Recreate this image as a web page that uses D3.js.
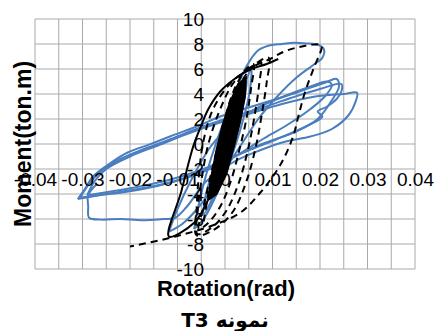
<!DOCTYPE html>
<html>
<head>
<meta charset="utf-8">
<script src="https://cdn.jsdelivr.net/npm/d3@7"></script>
<style>
  body { margin: 0; background: #fff; }
  svg { display: block; }
  .tick text { font-family: "Liberation Sans", Arial, sans-serif; font-size: 19px; fill: #000; }
</style>
</head>
<body>
<div id="chart"></div>
<script>
// tick labels
const xTicks = [-0.04, -0.03, -0.02, -0.01, 0, 0.01, 0.02, 0.03, 0.04]
const yTicks = [-10, -8, -6, -4, -2, 0, 2, 4, 6, 8, 10]
const xGrid = d3.range(-0.04, 0.04001, 0.005)

// test (blue) - read as [rotation, moment] pairs
const blueEarly = [[0,0],[0.0015,2],[0.003,3.8],[0.0045,5.2],[0.004,3.5],[0.002,0.8],[0,-1.8],[-0.002,-3.8],[-0.0045,-5.6],[-0.004,-4],[-0.002,-1.5],[0,0.5],[0.002,2.6],[0.004,4.6],[0.0055,6.0],[0.0052,4.2],[0.0035,1.5],[0.0012,-1.2],[-0.0015,-3.8],[-0.0045,-6.0],[-0.0065,-6.8]]
const bluePeak = [[-0.0065,-6.8],[-0.0055,-4.8],[-0.004,-2.5],[-0.0015,0.5],[0.0015,3.5],[0.0045,6.2],[0.007,7.5],[0.0095,7.9],[0.012,8.0],[0.0145,8.1],[0.017,8.05],[0.0195,7.95],[0.0208,7.6],[0.0205,6.9],[0.0185,6.3],[0.015,5.3],[0.011,3.8],[0.007,2.0],[0.003,-0.3],[-0.001,-2.6],[-0.005,-4.8],[-0.009,-6.4],[-0.0118,-7.0]]
const blueLoop1 = [[-0.0118,-7.0],[-0.01,-5.2],[-0.007,-2.8],[-0.003,-0.2],[0.002,1.8],[0.0074,3.0],[0.013,3.9],[0.018,4.6],[0.0215,5.0],[0.0225,4.7],[0.021,3.8],[0.018,2.8],[0.013,1.5],[0.008,0.4],[0.003,-0.8],[-0.002,-1.8],[-0.008,-2.7],[-0.014,-3.3],[-0.02,-3.7],[-0.025,-4.0],[-0.0295,-4.3],[-0.031,-4.4]]
const blueLoop2 = [[-0.031,-4.4],[-0.0295,-3.6],[-0.0278,-2.6],[-0.024,-1.5],[-0.0206,-0.7],[-0.016,-0.05],[-0.0116,0.6],[-0.0053,1.5],[-0.001,2.2],[0.0074,3.2],[0.015,4.1],[0.021,4.9],[0.0235,5.2],[0.024,4.6],[0.0225,3.5],[0.0195,2.0],[0.015,1.0],[0.0085,0.1],[0.002,-1.0],[-0.004,-2.0],[-0.01,-2.9],[-0.016,-3.5],[-0.022,-3.9],[-0.027,-4.1],[-0.0305,-4.3]]
const blueLoop3 = [[-0.0305,-4.3],[-0.029,-3.4],[-0.0265,-2.3],[-0.022,-1.2],[-0.017,-0.4],[-0.012,0.3],[-0.006,1.2],[0,2.0],[0.007,2.8],[0.014,3.7],[0.02,4.4],[0.0245,4.8],[0.0245,4.2],[0.0235,3.6],[0.0215,3.0],[0.0195,2.6],[0.0205,2.2],[0.017,1.4],[0.011,0.4],[0.005,-0.5],[0,-1.3],[-0.006,-2.2],[-0.012,-2.9],[-0.018,-3.4],[-0.024,-3.8],[-0.029,-4.1]]
const blueLoop4 = [[-0.029,-4.1],[-0.0275,-3.0],[-0.025,-2.0],[-0.02,-1.0],[-0.014,-0.1],[-0.008,0.8],[-0.002,1.6],[0.005,2.4],[0.012,3.2],[0.019,3.8],[0.025,4.0],[0.0278,4.1],[0.0275,3.4],[0.026,2.3],[0.0225,1.2],[0.018,0.6],[0.0128,0.2],[0.0074,-0.5],[0.002,-1.4],[-0.004,-3.0],[-0.008,-5.0],[-0.0105,-5.9],[-0.013,-6.0],[-0.0175,-6.1],[-0.022,-6.0],[-0.026,-6.05],[-0.0286,-5.9],[-0.0288,-5.0],[-0.0288,-4.1],[-0.027,-3.2]]

// model, dashed
const dashedModel = [[-0.0045,-6.2],[-0.0035,-4.0],[-0.002,-1.2],[-0.0002,1.8],[0.002,4.4],[0.0045,6.0],[0.006,6.4],[0.0055,4.5],[0.0045,2.0],[0.003,-0.5],[0.0012,-3.0],[-0.001,-5.0],[-0.0035,-6.3],[-0.0055,-6.8],
  [-0.0045,-5.0],[-0.003,-2.5],[-0.001,0.5],[0.0015,3.2],[0.0045,5.6],[0.0075,6.6],[0.0072,4.8],[0.0062,2.2],[0.0048,-0.5],[0.003,-3.0],[0.0005,-5.2],[-0.0025,-6.6],[-0.0058,-7.2],
  [-0.0058,-5.5],[-0.005,-3.0],[-0.0035,0],[-0.001,2.8],[0.002,5.0],[0.006,6.3],[0.0092,6.9],[0.0088,5.0],[0.0078,2.5],[0.0065,-0.2],[0.0045,-3.0],[0.0015,-5.5],[-0.0025,-6.9],[-0.006,-7.3],
  [-0.006,-5.5],[-0.0055,-2.5],[-0.0045,0.3],[-0.0025,2.8],[0.001,4.8],[0.005,6.0],[0.0095,6.8],[0.0125,7.4],[0.0155,7.75],[0.0185,7.95],[0.0203,7.9],[0.0186,6.0],[0.0168,4.1],[0.0155,2.3],[0.0143,0.56],[0.0116,-1.7],[0.0074,-3.9],[0.0032,-5.5],[-0.0032,-6.6],[-0.0085,-7.2],[-0.0137,-7.7],[-0.02,-8.2]]

// model, solid
const solidModel = [[-0.0036,-4.5],[-0.0065,-6.3],[-0.0118,-7.4],[-0.0092,-3.8],[-0.0067,-0.2],[-0.0053,1.2],[-0.0035,2.8],[-0.001,4.2],[0.002,5.2],[0.0055,6.0],[0.0088,6.4],[0.0112,6.8]]
const solidCore = [[-0.0036,-4.5],[-0.0028,-2.5],[-0.0018,-0.5],[-0.0005,1.5],[0.001,3.3],[0.0028,4.8],[0.0044,5.3],[0.0042,3.8],[0.0032,1.8],[0.0018,-0.3],[0.0003,-2.4],[-0.0018,-4.0],[-0.0036,-4.5]]

const W = 435, H = 331
const plot = {left: 35, right: 415, top: 19, bottom: 269}

const svg = d3.select("#chart").append("svg")
    .attr("width", W)
    .attr("height", H)

const x = d3.scaleLinear().domain([-0.04, 0.04]).range([plot.left, plot.right])
const y = d3.scaleLinear().domain([-10, 10]).range([plot.bottom, plot.top])

// grid
svg.append("g").selectAll("line")
    .data(xGrid)
    .join("line")
    .attr("x1", d => x(d)).attr("x2", d => x(d))
    .attr("y1", plot.top).attr("y2", plot.bottom)
    .attr("stroke", "#a9a9a9").attr("stroke-width", 1)
svg.append("g").selectAll("line")
    .data(yTicks)
    .join("line")
    .attr("x1", plot.left).attr("x2", plot.right)
    .attr("y1", d => y(d)).attr("y2", d => y(d))
    .attr("stroke", "#a9a9a9").attr("stroke-width", 1)

const line = d3.line()
    .x(d => x(d[0]))
    .y(d => y(d[1]))
    .curve(d3.curveCatmullRom.alpha(0.5))

// blue test loops
const blue = [blueEarly, bluePeak, blueLoop1, blueLoop2, blueLoop3, blueLoop4]
svg.append("g").selectAll("path")
    .data(blue)
    .join("path")
    .attr("d", line)
    .attr("fill", "none")
    .attr("stroke", "#4a7ebf")
    .attr("stroke-width", 2)

// model curves
svg.append("path")
    .attr("d", d3.line().x(d => x(d[0])).y(d => y(d[1]))(solidCore))
    .attr("fill", "#000")
    .attr("stroke", "#000")
    .attr("stroke-width", 2)
svg.append("path")
    .attr("d", line(solidModel))
    .attr("fill", "none")
    .attr("stroke", "#000")
    .attr("stroke-width", 2)
svg.append("path")
    .attr("d", line(dashedModel))
    .attr("fill", "none")
    .attr("stroke", "#000")
    .attr("stroke-width", 2)
    .attr("stroke-dasharray", "7,5")

// axes through zero
const xAxis = svg.append("g")
    .attr("transform", `translate(0,${y(0)})`)
    .call(d3.axisBottom(x).tickValues(xTicks).tickSize(0).tickPadding(29))
xAxis.select(".domain").remove()
xAxis.selectAll("text").text(d => String(d))

const yAxis = svg.append("g")
    .attr("transform", `translate(${x(0)},0)`)
    .call(d3.axisLeft(y).tickValues(yTicks).tickSize(0).tickPadding(21))
yAxis.select(".domain").remove()
yAxis.selectAll("text").text(d => String(d))

// titles
svg.append("text")
    .attr("transform", `translate(31,${(plot.top + plot.bottom) / 2}) rotate(-90)`)
    .attr("text-anchor", "middle")
    .style("font-family", "'Liberation Sans', Arial, sans-serif")
    .style("font-weight", "bold")
    .style("font-size", "23px")
    .text("Moment(ton.m)")

svg.append("text")
    .attr("x", 226).attr("y", 296)
    .attr("text-anchor", "middle")
    .style("font-family", "'Liberation Sans', Arial, sans-serif")
    .style("font-weight", "bold")
    .style("font-size", "22px")
    .text("Rotation(rad)")

svg.append("text")
    .attr("x", 225).attr("y", 327)
    .attr("text-anchor", "middle")
    .attr("direction", "rtl")
    .style("font-family", "'DejaVu Sans', sans-serif")
    .style("font-weight", "bold")
    .style("font-size", "20px")
    .text("نمونه T3")
</script>
</body>
</html>
